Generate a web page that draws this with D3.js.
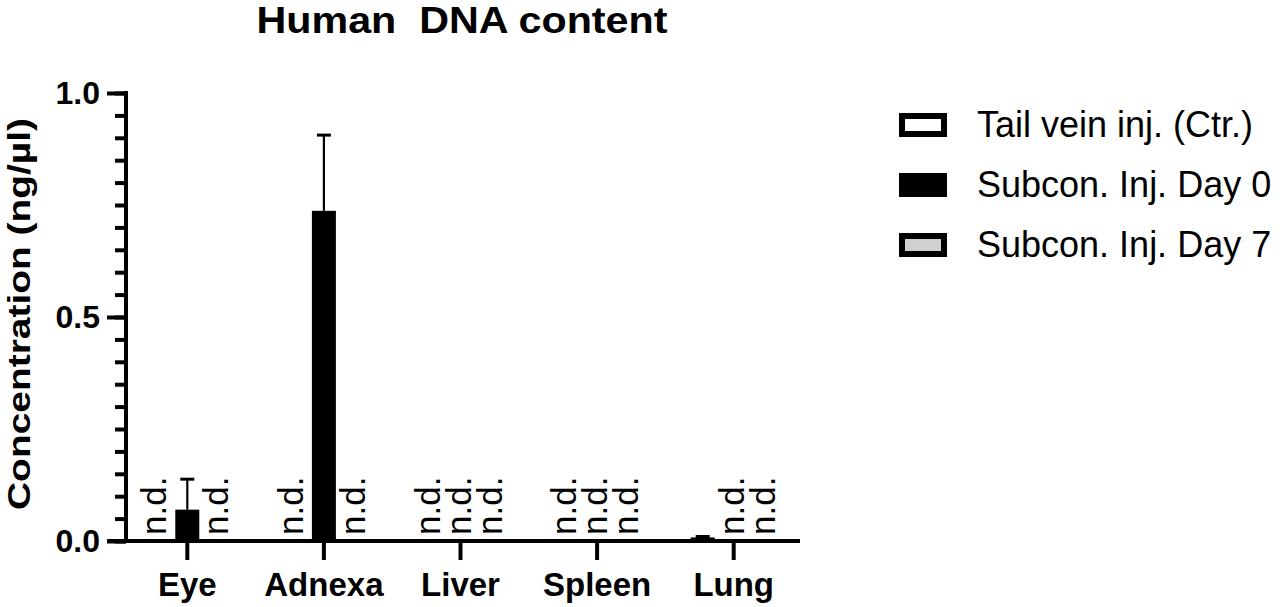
<!DOCTYPE html>
<html>
<head>
<meta charset="utf-8">
<script src="https://cdn.jsdelivr.net/npm/d3@7"></script>
<style>
  body { margin: 0; background: #fff; }
  svg { display: block; }
  text { font-family: Arial, "Liberation Sans", Helvetica, sans-serif; fill: #000; }
</style>
</head>
<body>
<svg id="chart" width="1280" height="607"></svg>
<script>
// chart data
var categories = ["Eye", "Adnexa", "Liver", "Spleen", "Lung"];
var seriesNames = ["Tail vein inj. (Ctr.)", "Subcon. Inj. Day 0", "Subcon. Inj. Day 7"];
var seriesFill = ["#ffffff", "#000000", "#d0d0d0"];
// null = not detected (n.d.)
var tailVeinMean = [null, null, null, null, 0.008];
var tailVeinSd   = [null, null, null, null, 0.002];
var day0Mean     = [0.07, 0.737, null, null, null];
var day0Sd       = [0.068, 0.169, null, null, null];
var day7Mean     = [null, null, null, null, null];
var day7Sd       = [null, null, null, null, null];
var yMajorTicks  = [0, 0.5, 1.0];

var svg = d3.select("#chart");

var means = [tailVeinMean, day0Mean, day7Mean];
var sds = [tailVeinSd, day0Sd, day7Sd];

var xScale = d3.scaleBand().domain(categories).range([119, 802]);
var xInner = d3.scalePoint().domain(seriesNames).range([-31, 31]);
var yScale = d3.scaleLinear().domain([0, 1]).range([541, 93]);
var barW = 24, bs = 3;

// flatten into cells
var cells = [];
categories.forEach(function (c, i) {
  seriesNames.forEach(function (s, j) {
    cells.push({ cat: c, ser: s, idx: j, mean: means[j][i], sd: sds[j][i] });
  });
});

// title
svg.append("text")
  .attr("x", 462).attr("y", 33)
  .attr("text-anchor", "middle")
  .attr("font-size", 37).attr("font-weight", "bold")
  .attr("textLength", 411).attr("lengthAdjust", "spacingAndGlyphs")
  .style("white-space", "pre")
  .text("Human  DNA content");

// y axis title
svg.append("text")
  .attr("transform", "translate(30,314) rotate(-90)")
  .attr("text-anchor", "middle")
  .attr("font-size", 32).attr("font-weight", "bold")
  .attr("textLength", 392).attr("lengthAdjust", "spacingAndGlyphs")
  .text("Concentration (ng/\u00b5l)");

// bars
var bars = svg.append("g").attr("class", "bars");
var withData = cells.filter(d => d.mean != null);

// error bars (upward only)
bars.selectAll("line.err").data(withData).enter().append("line")
  .attr("class", "err")
  .attr("x1", d => xScale(d.cat) + xScale.bandwidth() / 2 + xInner(d.ser))
  .attr("x2", d => xScale(d.cat) + xScale.bandwidth() / 2 + xInner(d.ser))
  .attr("y1", d => yScale(d.mean))
  .attr("y2", d => yScale(d.mean + d.sd))
  .attr("stroke", "#000").attr("stroke-width", 2.2);
bars.selectAll("line.cap").data(withData).enter().append("line")
  .attr("class", "cap")
  .attr("x1", d => xScale(d.cat) + xScale.bandwidth() / 2 + xInner(d.ser) - 7)
  .attr("x2", d => xScale(d.cat) + xScale.bandwidth() / 2 + xInner(d.ser) + 7)
  .attr("y1", d => yScale(d.mean + d.sd))
  .attr("y2", d => yScale(d.mean + d.sd))
  .attr("stroke", "#000").attr("stroke-width", 3);

bars.selectAll("rect").data(withData).enter().append("rect")
  .attr("x", d => xScale(d.cat) + xScale.bandwidth() / 2 + xInner(d.ser) - barW / 2 + bs / 2)
  .attr("width", barW - bs)
  .attr("y", d => yScale(d.mean) + bs / 2)
  .attr("height", d => Math.max(0, yScale(0) - yScale(d.mean) - bs / 2))
  .attr("fill", d => seriesFill[d.idx])
  .attr("stroke", "#000").attr("stroke-width", bs);

// n.d. labels
svg.append("g").selectAll("text")
  .data(cells.filter(d => d.mean == null)).enter().append("text")
  .attr("transform", d => "translate(" + (xScale(d.cat) + xScale.bandwidth() / 2 + xInner(d.ser) + 10) + ",535) rotate(-90)")
  .attr("font-size", 35)
  .text("n.d.");

// y axis: minor ticks
svg.append("g")
  .attr("transform", "translate(126,0)")
  .call(d3.axisLeft(yScale).ticks(20).tickSize(11).tickSizeOuter(0).tickFormat(""))
  .call(g => g.select(".domain").remove());

// y axis: major ticks + labels
var yAxisG = svg.append("g")
  .attr("transform", "translate(126,0)")
  .call(d3.axisLeft(yScale).tickValues(yMajorTicks).tickSize(19).tickSizeOuter(0)
    .tickPadding(7).tickFormat(d3.format(".1f")));
yAxisG.selectAll("text")
  .attr("font-size", 32).attr("font-weight", "bold")
  .attr("font-family", null);

// x axis
var xAxisG = svg.append("g")
  .attr("transform", "translate(0,541)")
  .call(d3.axisBottom(xScale).tickSize(19).tickSizeOuter(0).tickPadding(13));
xAxisG.selectAll("text")
  .attr("font-size", 33).attr("font-weight", "bold")
  .attr("font-family", null);

svg.selectAll(".domain, .tick line")
  .attr("stroke", "#000").attr("stroke-width", 4);
xAxisG.select(".domain").attr("d", "M107,0H800");
yAxisG.select(".domain").attr("d", "M0,541V91");
svg.selectAll(".tick text").attr("fill", "#000");

// legend
var legend = svg.append("g").selectAll("g")
  .data(seriesNames).enter().append("g")
  .attr("transform", (d, i) => "translate(899," + (113 + i * 60) + ")");
legend.append("rect")
  .attr("x", 3).attr("y", 3)
  .attr("width", 42).attr("height", 18)
  .attr("fill", (d, i) => seriesFill[i])
  .attr("stroke", "#000").attr("stroke-width", 6);
legend.append("text")
  .attr("x", 78).attr("y", 24)
  .attr("font-size", 36)
  .text(d => d);
</script>
</body>
</html>
